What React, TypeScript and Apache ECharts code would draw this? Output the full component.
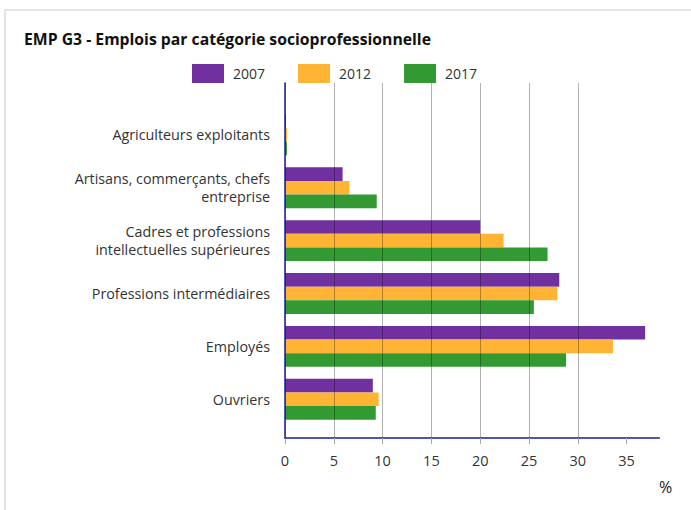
import React, { useEffect, useRef } from "react";
import * as echarts from "echarts";

const categories = [
  "Agriculteurs exploitants",
  "Artisans, commerçants, chefs\nentreprise",
  "Cadres et professions\nintellectuelles supérieures",
  "Professions intermédiaires",
  "Employés",
  "Ouvriers",
];
const values2007 = [0.1, 5.9, 20.0, 28.1, 36.9, 9.0];
const values2012 = [0.2, 6.6, 22.4, 27.9, 33.6, 9.6];
const values2017 = [0.2, 9.4, 26.9, 25.5, 28.8, 9.3];
const seriesNames = ["2007", "2012", "2017"];
const tickValues = [0, 5, 10, 15, 20, 25, 30, 35];
const xMax = 38.35;

const FONT = "'Open Sans', sans-serif";

export default function App() {
  const ref = useRef<HTMLDivElement>(null);
  useEffect(() => {
    const chart = echarts.init(ref.current!, null, { renderer: "svg" });
    const colors = ["#7030a0", "#ffb533", "#339933"];
    const data = [values2007, values2012, values2017];
    chart.setOption({
      animation: false,
      color: colors,
      title: {
        text: "EMP G3 - Emplois par catégorie socioprofessionnelle",
        left: 19,
        top: 26,
        textStyle: { fontFamily: FONT, fontSize: 15.75, fontWeight: "bold", color: "#111" },
      },
      legend: {
        left: 187,
        top: 59,
        itemWidth: 32,
        itemHeight: 19,
        itemGap: 33,
        icon: "rect",
        textStyle: { fontFamily: FONT, fontSize: 14, color: "#333", padding: [0, 0, 0, 4] },
        data: seriesNames,
      },
      graphic: [
        {
          type: "rect",
          shape: { x: 5, y: 10, width: 720, height: 540 },
          style: { fill: "none", stroke: "#e4e4e4", lineWidth: 2 },
          silent: true,
        },
        {
          type: "text",
          left: 659,
          top: 479,
          style: { text: "%", fontFamily: FONT, fontSize: 16, fill: "#222" },
        },
      ],
      grid: [
        { left: 285, right: 31.7, top: 83, bottom: 72 },
        { left: 285, right: 31.7, top: 108.4, bottom: 84.3 },
      ],
      xAxis: [
        {
          type: "value",
          gridIndex: 0,
          min: 0,
          max: xMax,
          interval: 5,
          z: 10,
          axisLine: { show: true, lineStyle: { color: "#1c1c94", width: 1.5 } },
          axisTick: {
            show: true,
            length: 6,
            lineStyle: { color: "#aaa" },
            customValues: tickValues,
          },
          axisLabel: {
            fontFamily: FONT,
            fontSize: 14.5,
            color: "#333",
            margin: 15,
            customValues: tickValues,
          },
          splitLine: {
            show: true,
            showMaxLine: false,
            lineStyle: { color: "rgba(0,0,0,0.3)", width: 1 },
          },
        },
        {
          type: "value",
          gridIndex: 1,
          min: 0,
          max: xMax,
          show: false,
        },
      ],
      yAxis: [
        {
          type: "value",
          gridIndex: 0,
          z: 11,
          axisLine: { show: true, lineStyle: { color: "#1c1c94", width: 1.5 } },
          axisTick: { show: false },
          axisLabel: { show: false },
          splitLine: { show: false },
        },
        {
          type: "category",
          gridIndex: 1,
          inverse: true,
          data: categories,
          axisLine: { show: false },
          axisTick: { show: false },
          axisLabel: {
            fontFamily: FONT,
            fontSize: 14.3,
            color: "#333",
            margin: 15,
            lineHeight: 18,
            align: "right",
          },
        },
      ],
      series: seriesNames.map((name, i) => ({
        name,
        type: "bar",
        xAxisIndex: 1,
        yAxisIndex: 1,
        data: data[i],
        barWidth: 13.6,
        barGap: "0%",
        barCategoryGap: "23%",
        itemStyle: { color: colors[i] },
      })),
    });
    return () => chart.dispose();
  }, []);
  return (
    <div
      ref={ref}
      style={{ position: "fixed", left: 0, top: 0, width: 691, height: 510, background: "#fff" }}
    />
  );
}
